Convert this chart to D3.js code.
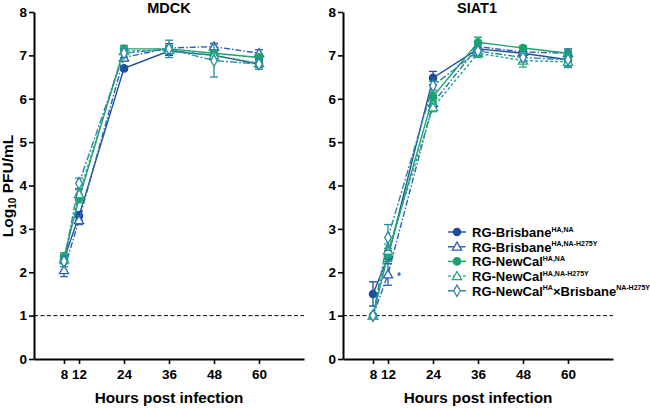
<!DOCTYPE html>
<html><head><meta charset="utf-8">
<script src="https://cdn.jsdelivr.net/npm/d3@7"></script>
<style>body{margin:0;background:#fff}text{font-family:"Liberation Sans",Arial,sans-serif}</style>
</head><body><svg id="c" width="650" height="408"></svg>
<script>
const hours = [8, 12, 24, 36, 48, 60];
const xTicks = [8, 12, 24, 36, 48, 60];
const yTicks = [0, 1, 2, 3, 4, 5, 6, 7, 8];
const panels = ["MDCK", "SIAT1"];
const seriesNames = ["RG-Brisbane", "RG-Brisbane", "RG-NewCal", "RG-NewCal", "RG-NewCal"];
const seriesSup = ["HA,NA", "HA,NA-H275Y", "HA,NA", "HA,NA-H275Y", "HA"];
const detectionLimit = 1;

// MDCK means and SEM
const mdckBrisbane      = [2.30, 3.30, 6.70, 7.10, 7.00, 6.80];
const mdckBrisbaneH275Y = [2.05, 3.20, 6.95, 7.17, 7.20, 7.05];
const mdckNewCal        = [2.35, 3.70, 7.15, 7.15, 7.05, 6.95];
const mdckNewCalH275Y   = [2.30, 3.80, 7.10, 7.12, 7.00, 6.82];
const mdckReassortant   = [2.25, 4.05, 7.05, 7.15, 6.88, 6.80];
const mdckBrisbaneErr      = [0.10, 0.10, 0.05, 0.10, 0.10, 0.08];
const mdckBrisbaneH275YErr = [0.15, 0.10, 0.08, 0.10, 0.08, 0.08];
const mdckNewCalErr        = [0.10, 0.10, 0.08, 0.08, 0.08, 0.08];
const mdckNewCalH275YErr   = [0.10, 0.10, 0.08, 0.08, 0.08, 0.08];
const mdckReassortantErr   = [0.12, 0.12, 0.10, 0.20, 0.38, 0.12];

// SIAT1 means and SEM
const siatBrisbane      = [1.50, 2.35, 6.48, 7.15, 7.05, 6.90];
const siatBrisbaneH275Y = [1.00, 1.95, 5.90, 7.20, 7.08, 7.05];
const siatNewCal        = [1.00, 2.40, 6.05, 7.30, 7.17, 7.05];
const siatNewCalH275Y   = [1.00, 2.50, 5.80, 7.05, 6.88, 6.85];
const siatReassortant   = [1.00, 2.80, 6.30, 7.10, 6.95, 6.90];
const siatBrisbaneErr      = [0.28, 0.15, 0.15, 0.10, 0.08, 0.10];
const siatBrisbaneH275YErr = [0.00, 0.25, 0.10, 0.10, 0.10, 0.10];
const siatNewCalErr        = [0.00, 0.15, 0.10, 0.12, 0.05, 0.08];
const siatNewCalH275YErr   = [0.00, 0.15, 0.10, 0.10, 0.15, 0.10];
const siatReassortantErr   = [0.00, 0.30, 0.10, 0.10, 0.10, 0.18];

const colors = ["#1d4f9e", "#2f5fb3", "#1aa36c", "#27a87e", "#2a88a6"];
const dashes = [null, "6,2,1.5,2", null, "3,2", "7,2,2,2"];
const markers = ["circle", "triangle", "circle", "triangle", "diamond"];
const filled = [true, false, true, false, false];

const data = {
  MDCK: [mdckBrisbane, mdckBrisbaneH275Y, mdckNewCal, mdckNewCalH275Y, mdckReassortant],
  SIAT1: [siatBrisbane, siatBrisbaneH275Y, siatNewCal, siatNewCalH275Y, siatReassortant]
};
const errs = {
  MDCK: [mdckBrisbaneErr, mdckBrisbaneH275YErr, mdckNewCalErr, mdckNewCalH275YErr, mdckReassortantErr],
  SIAT1: [siatBrisbaneErr, siatBrisbaneH275YErr, siatNewCalErr, siatNewCalH275YErr, siatReassortantErr]
};

const svg = d3.select("#c");
const y = d3.scaleLinear().domain([0, 8]).range([359, 12]);
const panelX = [34, 343];

const symType = {circle: d3.symbolCircle, triangle: d3.symbolTriangle, diamond: d3.symbolDiamond};
const symSize = {circle: 42, triangle: 38, diamond: 38};

function drawMarker(g, type, isFilled, color, cx, cy) {
  const sym = d3.symbol().type(symType[type]).size(symSize[type]);
  g.append("path").attr("d", sym())
    .attr("transform", `translate(${cx},${cy + (type === "triangle" ? 0.8 : 0)})`)
    .attr("fill", isFilled ? color : "#fff")
    .attr("stroke", color).attr("stroke-width", 1.3);
}

panels.forEach((p, pi) => {
  const x0 = panelX[pi];
  const x = d3.scaleLinear().domain([0, 72]).range([x0, x0 + 270]);
  const g = svg.append("g");

  const yAx = g.append("g").attr("transform", `translate(${x0},0)`)
    .call(d3.axisLeft(y).tickValues(yTicks).tickSize(5).tickSizeOuter(0).tickPadding(2));
  const xAx = g.append("g").attr("transform", `translate(0,${y(0)})`)
    .call(d3.axisBottom(x).tickValues(xTicks).tickSize(5).tickSizeOuter(0).tickPadding(5));
  [yAx, xAx].forEach(a => {
    a.select(".domain").attr("stroke", "#000").attr("stroke-width", 2);
    a.selectAll(".tick line").attr("stroke", "#000").attr("stroke-width", 1.6);
    a.selectAll(".tick text").attr("fill", "#000").attr("font-weight", "bold")
      .attr("font-size", 13.5).style("font-family", '"Liberation Sans",Arial,sans-serif');
  });

  g.append("line").attr("x1", x0).attr("x2", x(72)).attr("y1", y(detectionLimit)).attr("y2", y(detectionLimit))
    .attr("stroke", "#000").attr("stroke-width", 1).attr("stroke-dasharray", "4,2.5");

  g.append("text").attr("x", (x0 + x(72)) / 2 - (pi ? 1 : 0)).attr("y", 13).attr("text-anchor", "middle")
    .attr("font-weight", "bold").attr("font-size", 14.5).text(p);

  g.append("text").attr("x", x(36)).attr("y", 403).attr("text-anchor", "middle")
    .attr("font-weight", "bold").attr("font-size", 15.3).text("Hours post infection");

  const line = d3.line().x((d, i) => x(hours[i])).y(d => y(d));
  data[p].forEach((vals, si) => {
    const c = colors[si];
    const sg = g.append("g");
    sg.append("path").attr("d", line(vals)).attr("fill", "none").attr("stroke", c)
      .attr("stroke-width", 1.4).attr("stroke-dasharray", dashes[si]);
    vals.forEach((v, i) => {
      const e = errs[p][si][i];
      if (e > 0) {
        const cx = x(hours[i]);
        sg.append("line").attr("x1", cx).attr("x2", cx).attr("y1", y(v - e)).attr("y2", y(v + e))
          .attr("stroke", c).attr("stroke-width", 1.3);
        [v - e, v + e].forEach(ev => sg.append("line").attr("x1", cx - 4).attr("x2", cx + 4)
          .attr("y1", y(ev)).attr("y2", y(ev)).attr("stroke", c).attr("stroke-width", 1.3));
      }
    });
    vals.forEach((v, i) => drawMarker(sg, markers[si], filled[si], c, x(hours[i]), y(v)));
  });

  if (pi === 1) {
    g.append("text").attr("x", x(12) + 9).attr("y", y(siatBrisbaneH275Y[1]) + 6)
      .attr("fill", colors[1]).attr("font-size", 10).attr("font-weight", "bold").text("*");
  }
});

const yl = svg.append("text").attr("transform", "translate(13,186) rotate(-90)")
  .attr("text-anchor", "middle").attr("font-weight", "bold").attr("font-size", 15.5);
yl.append("tspan").text("Log");
yl.append("tspan").attr("font-size", 10).attr("dy", 3).text("10");
yl.append("tspan").attr("dy", -3).text(" PFU/mL");

const lg = svg.append("g");
seriesNames.forEach((n, si) => {
  const ly = 232 + si * 14.7;
  const c = colors[si];
  lg.append("line").attr("x1", 448).attr("x2", 466).attr("y1", ly).attr("y2", ly)
    .attr("stroke", c).attr("stroke-width", 1.4).attr("stroke-dasharray", dashes[si]);
  drawMarker(lg, markers[si], filled[si], c, 457, ly);
  const t = lg.append("text").attr("x", 472).attr("y", ly + 5).attr("font-weight", "bold").attr("font-size", 13);
  t.append("tspan").text(n);
  t.append("tspan").attr("font-size", 7).attr("dy", -5.5).text(seriesSup[si]);
  if (si === 4) {
    t.append("tspan").attr("font-size", 13).attr("dy", 5.5).text("\u00d7Brisbane");
    t.append("tspan").attr("font-size", 7).attr("dy", -5.5).text("NA-H275Y");
  }
});
</script></body></html>
